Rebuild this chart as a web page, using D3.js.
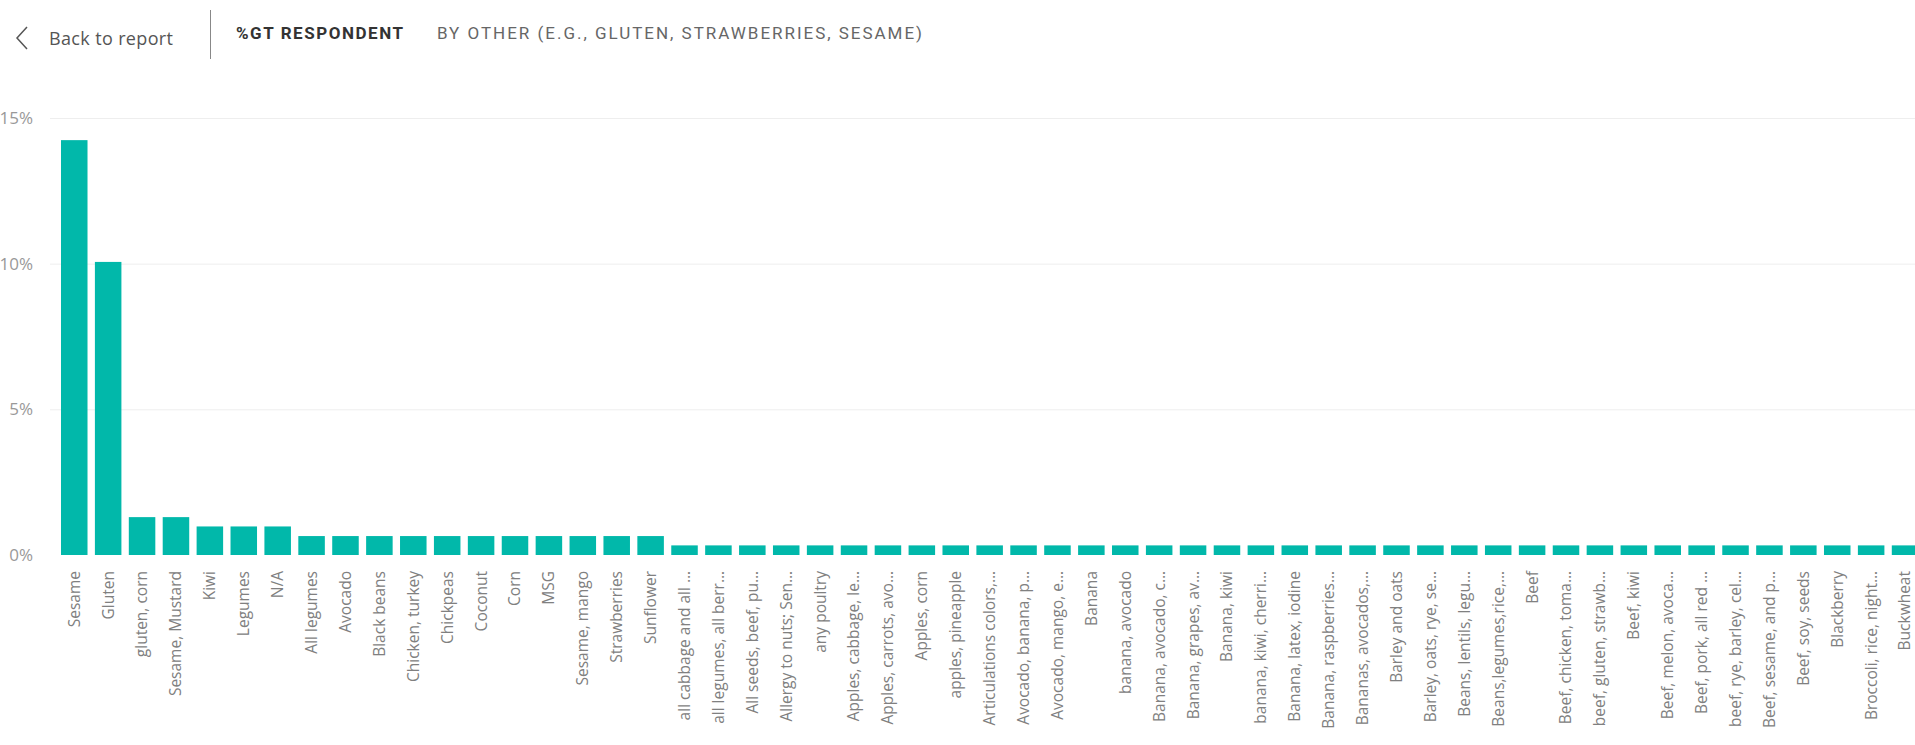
<!DOCTYPE html>
<html>
<head>
<meta charset="utf-8">
<script src="https://cdn.jsdelivr.net/npm/d3@7"></script>
<style>
  body { margin: 0; background: #fff; overflow: hidden; }
  svg { display: block; }
  .tick text { font-family: "Open Sans", "Segoe UI", sans-serif; }
</style>
</head>
<body>
<svg id="chart"></svg>
<script>
// data
const categories = [
  "Sesame", "Gluten", "gluten, corn", "Sesame, Mustard", "Kiwi", "Legumes", "N/A",
  "All legumes", "Avocado", "Black beans", "Chicken, turkey", "Chickpeas", "Coconut",
  "Corn", "MSG", "Sesame, mango", "Strawberries", "Sunflower",
  "all cabbage and all …", "all legumes, all berr…", "All seeds, beef, pu…",
  "Allergy to nuts; Sen…", "any poultry", "Apples, cabbage, le…", "Apples, carrots, avo…",
  "Apples, corn", "apples, pineapple", "Articulations colors,…", "Avocado, banana, p…",
  "Avocado, mango, e…", "Banana", "banana, avocado", "Banana, avocado, c…",
  "Banana, grapes, av…", "Banana, kiwi", "banana, kiwi, cherri…", "Banana, latex, iodine",
  "Banana, raspberries…", "Bananas, avocados,…", "Barley and oats", "Barley, oats, rye, se…",
  "Beans, lentils, legu…", "Beans,legumes,rice,…", "Beef", "Beef, chicken, toma…",
  "beef, gluten, strawb…", "Beef, kiwi", "Beef, melon, avoca…", "Beef, pork, all red …",
  "beef, rye, barley, cel…", "Beef, sesame, and p…", "Beef, soy, seeds", "Blackberry",
  "Broccoli, rice, night…", "Buckwheat"
];

// % of respondents
const values = [
  14.24, 10.06, 1.30, 1.30, 0.98, 0.98, 0.98,
  0.65, 0.65, 0.65, 0.65, 0.65, 0.65,
  0.65, 0.65, 0.65, 0.65, 0.65,
  0.33, 0.33, 0.33,
  0.33, 0.33, 0.33, 0.33,
  0.33, 0.33, 0.33, 0.33,
  0.33, 0.33, 0.33, 0.33,
  0.33, 0.33, 0.33, 0.33,
  0.33, 0.33, 0.33, 0.33,
  0.33, 0.33, 0.33, 0.33,
  0.33, 0.33, 0.33, 0.33,
  0.33, 0.33, 0.33, 0.33,
  0.33, 0.33
];

const yTicks = [0, 5, 10, 15];

const headerBack = "Back to report";
const headerMeasure = "%GT RESPONDENT";
const headerField = "BY OTHER (E.G., GLUTEN, STRAWBERRIES, SESAME)";

const width = 1915;
const height = 745;
const barColor = "#01b8aa";

const data = categories.map((c, i) => ({ name: c, value: values[i] }));

const svg = d3.select("#chart")
  .attr("width", width)
  .attr("height", height);

// header

const header = svg.append("g").attr("class", "header");

header.append("path")
  .attr("d", "M27,27 L17,38 L27,49")
  .attr("fill", "none")
  .attr("stroke", "#555")
  .attr("stroke-width", 1.5);

header.append("text")
  .attr("x", 49)
  .attr("y", 38)
  .attr("dominant-baseline", "central")
  .attr("font-family", "'Open Sans', sans-serif")
  .attr("font-size", 18)
  .attr("fill", "#555")
  .attr("textLength", 124)
  .text(headerBack);

header.append("line")
  .attr("x1", 210.5).attr("x2", 210.5)
  .attr("y1", 10).attr("y2", 59)
  .attr("stroke", "#888");

header.append("text")
  .attr("x", 236)
  .attr("y", 33)
  .attr("dominant-baseline", "central")
  .attr("font-family", "Roboto, sans-serif")
  .attr("font-weight", "bold")
  .attr("font-size", 17)
  .attr("fill", "#333")
  .attr("textLength", 167)
  .attr("lengthAdjust", "spacing")
  .text(headerMeasure);

header.append("text")
  .attr("x", 437)
  .attr("y", 33)
  .attr("dominant-baseline", "central")
  .attr("font-family", "Roboto, sans-serif")
  .attr("font-size", 17)
  .attr("fill", "#666")
  .attr("textLength", 485)
  .attr("lengthAdjust", "spacing")
  .text(headerField);

// scales

const x = d3.scaleBand()
  .domain(categories)
  .range([57.3, 1922])
  .paddingInner(0.218)
  .paddingOuter(0.109);

const y = d3.scaleLinear()
  .domain([0, 15])
  .range([555, 118]);

// gridlines

svg.append("g")
  .attr("class", "grid")
  .attr("transform", `translate(${50},0)`)
  .call(d3.axisLeft(y).tickValues(yTicks.filter(d => d > 0)).tickSize(-(width - 50)).tickFormat(""))
  .call(g => g.select(".domain").remove())
  .call(g => g.selectAll("line").attr("stroke", "#eeeeee"));

// y axis labels

svg.append("g")
  .attr("class", "y-axis")
  .attr("transform", `translate(${33},0)`)
  .call(d3.axisLeft(y).tickValues(yTicks).tickSize(0).tickPadding(0).tickFormat(d => d + "%"))
  .call(g => g.select(".domain").remove())
  .call(g => g.selectAll("text")
    .attr("font-size", 17)
    .attr("fill", "#999"));

// bars

svg.append("g")
  .attr("class", "bars")
  .selectAll("rect")
  .data(data)
  .enter().append("rect")
    .attr("x", d => x(d.name))
    .attr("y", d => y(d.value))
    .attr("width", x.bandwidth())
    .attr("height", d => y(0) - y(d.value))
    .attr("fill", barColor);

// x axis labels

svg.append("g")
  .attr("class", "x-axis")
  .attr("transform", `translate(0,${y(0)})`)
  .call(d3.axisBottom(x).tickSize(0))
  .call(g => g.select(".domain").remove())
  .call(g => g.selectAll("text")
    .attr("transform", "rotate(-90)")
    .attr("x", -16)
    .attr("y", 0)
    .attr("dy", "0.35em")
    .attr("text-anchor", "end")
    .attr("font-size", 15.5)
    .attr("fill", "#808080"));
</script>
</body>
</html>
